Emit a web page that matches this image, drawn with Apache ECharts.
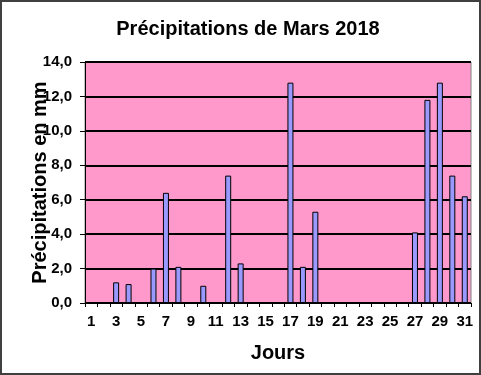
<!DOCTYPE html>
<html><head><meta charset="utf-8">
<script src="https://cdn.jsdelivr.net/npm/echarts@6/dist/echarts.min.js"></script>
<style>html,body{margin:0;padding:0;background:#fff}#c{width:481px;height:375px}</style>
</head><body><div id="c"></div>
<script>
const days = Array.from({length:31},(_,i)=>String(i+1));
const rain = [0,0,1.2,1.1,0,2.0,6.4,2.1,0,1.0,0,7.4,2.3,0,0,0,12.8,2.1,5.3,0,0,0,0,0,0,0,4.1,11.8,12.8,7.4,6.2];
const title = 'Précipitations de Mars 2018';
const xName = 'Jours';
const yName = 'Précipitations en mm';
const font = 'Liberation Sans, Arial, sans-serif';
const chart = echarts.init(document.getElementById('c'));
chart.setOption({
  animation:false,
  backgroundColor:'#fff',
  title:{text:title,left:243,top:14,textAlign:'center',textStyle:{fontFamily:font,fontSize:20,fontWeight:'bold',color:'#000'}},
  grid:{left:85,right:10,top:62,bottom:72,show:true,backgroundColor:'#FF99CC',borderColor:'#808080',borderWidth:1},
  xAxis:{type:'category',data:days,boundaryGap:true,
    name:xName,nameLocation:'middle',nameGap:40,nameMoveOverlap:false,
    nameTextStyle:{fontFamily:font,fontSize:20,fontWeight:'bold',color:'#000'},
    axisLine:{lineStyle:{color:'#000',width:1}},
    axisTick:{show:true,interval:0,length:4,lineStyle:{color:'#000'}},
    axisLabel:{interval:1,margin:11,fontFamily:font,fontSize:15,fontWeight:'bold',color:'#000'}},
  yAxis:{type:'value',min:0,max:14,interval:2,
    name:yName,nameLocation:'middle',nameGap:35,nameRotate:90,nameMoveOverlap:false,
    nameTextStyle:{fontFamily:font,fontSize:20,fontWeight:'bold',color:'#000'},
    axisLine:{show:true,lineStyle:{color:'#000',width:1}},
    axisTick:{show:true,length:5,lineStyle:{color:'#000'}},
    axisLabel:{margin:13,fontFamily:font,fontSize:15,fontWeight:'bold',color:'#000',
      formatter:v=>v.toFixed(1).replace('.',',')},
    splitLine:{show:true,lineStyle:{color:'#000',width:2}}},
  series:[{type:'bar',data:rain,barWidth:6,
    itemStyle:{color:'#9999FF',borderColor:'#000',borderWidth:1}}],
  graphic:[{type:'rect',shape:{x:1,y:1,width:479,height:373},style:{fill:null,stroke:'#404040',lineWidth:2},silent:true}]
});
</script></body></html>
